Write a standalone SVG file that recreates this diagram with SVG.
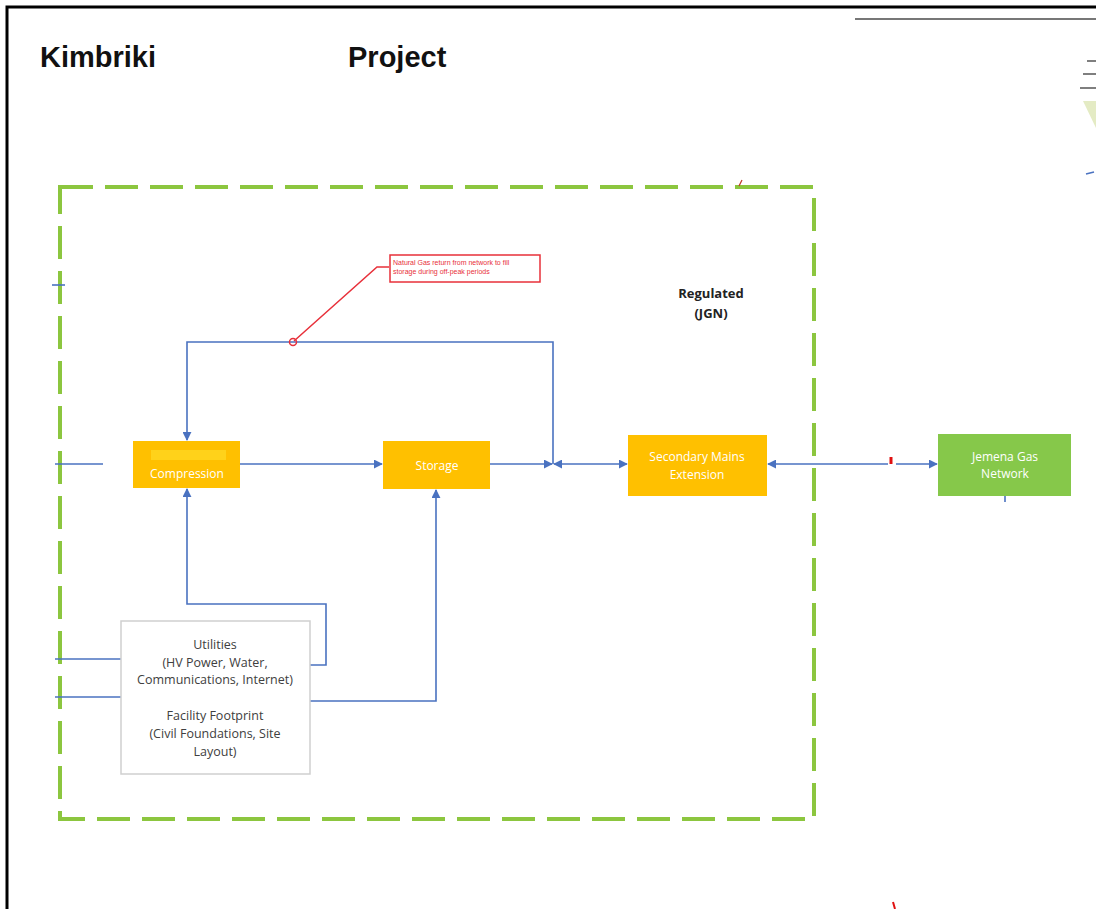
<svg xmlns="http://www.w3.org/2000/svg" width="1096" height="909" viewBox="0 0 1096 909">
<style>
.title{font-family:"Liberation Sans",Arial,sans-serif;font-weight:bold;font-size:29px;fill:#111}
.lbl{font-family:"Open Sans","Liberation Sans",sans-serif;font-size:12px;fill:#fff;text-anchor:middle}
.util{font-family:"Open Sans","Liberation Sans",sans-serif;font-size:12.5px;fill:#404040;text-anchor:middle}
.reg{font-family:"Open Sans","Liberation Sans",sans-serif;font-weight:bold;font-size:13px;fill:#222;text-anchor:middle}
.conn{fill:none;stroke:#4a72c0;stroke-width:1.6}
.orange{fill:#ffc000}
</style>
<defs>
<marker id="arr" viewBox="0 0 10 10" refX="9" refY="5" markerWidth="9" markerHeight="9" orient="auto-start-reverse" markerUnits="userSpaceOnUse">
<path d="M0,0 L10,5 L0,10 z" fill="#4a72c0"/>
</marker>
</defs>
<rect x="0" y="0" width="1096" height="909" fill="#fff"/>
<!-- frame -->
<path d="M7,909 V7 H1096" fill="none" stroke="#000" stroke-width="3"/>
<line x1="855" y1="19" x2="1096" y2="19" stroke="#777" stroke-width="2"/>
<g stroke="#555" stroke-width="1.5">
<line x1="1087" y1="61" x2="1096" y2="61"/>
<line x1="1083" y1="74" x2="1096" y2="74"/>
<line x1="1080" y1="88" x2="1096" y2="88"/>
</g>
<path d="M1083,101 L1096,101 L1096,128 Z" fill="#e4ebc4"/>
<line x1="1086" y1="174" x2="1094" y2="172" stroke="#4a72c0" stroke-width="1.5"/>

<text class="title" x="40" y="67">Kimbriki</text>
<text class="title" x="348" y="67">Project</text>

<!-- regulated boundary -->
<g id="regulated">
<rect x="60" y="187" width="754" height="632" fill="none" stroke="#8cc63f" stroke-width="4" stroke-dasharray="33,12"/>
<line x1="739" y1="186" x2="742" y2="180" stroke="#c0392b" stroke-width="1.2"/>
<text class="reg" x="711" y="298">Regulated</text>
<text class="reg" x="711" y="318">(JGN)</text>
</g>

<!-- connectors -->
<g id="connectors">
<path class="conn" d="M553,464 V342 H187 V440" marker-end="url(#arr)"/>
<path class="conn" d="M240,464 H382" marker-end="url(#arr)"/>
<path class="conn" d="M490,464 H552" marker-end="url(#arr)"/>
<path class="conn" d="M554,464 H627" marker-start="url(#arr)" marker-end="url(#arr)"/>
<path class="conn" d="M888,464 H768" marker-end="url(#arr)"/>
<path class="conn" d="M896,464 H937" marker-end="url(#arr)"/>
<path class="conn" d="M310,665 H326 V604 H187 V489" marker-end="url(#arr)"/>
<path class="conn" d="M310,701 H436 V490" marker-end="url(#arr)"/>
<path class="conn" d="M55,464 H103"/>
<path class="conn" d="M55,659 H121"/>
<path class="conn" d="M55,697 H121"/>
<path class="conn" d="M52,285 H65"/>
<path class="conn" d="M1005,496 V502"/>
<line x1="891" y1="457" x2="891" y2="464" stroke="#e01010" stroke-width="3"/>
<line x1="893" y1="902" x2="895" y2="909" stroke="#e01010" stroke-width="2"/>
</g>

<!-- callout -->
<g id="callout">
<path d="M389,267 H377 L294,341" fill="none" stroke="#e8303a" stroke-width="1.5"/>
<circle cx="293" cy="342" r="3.5" fill="none" stroke="#e8303a" stroke-width="1.5"/>
<rect x="390" y="255" width="150" height="27" fill="#fff" stroke="#e8303a" stroke-width="1.5"/>
<text x="393" y="265" font-family="Liberation Sans,Arial,sans-serif" font-size="7" fill="#e8303a">Natural Gas return from network to fill</text>
<text x="393" y="274" font-family="Liberation Sans,Arial,sans-serif" font-size="7" fill="#e8303a">storage during off-peak periods</text>
</g>

<g id="compression">
<rect class="orange" x="133" y="441" width="107" height="47"/>
<rect x="151" y="450" width="75" height="10" fill="#ffd21a"/>
<text class="lbl" x="187" y="478">Compression</text>
</g>
<g id="storage">
<rect class="orange" x="383" y="441" width="107" height="48"/>
<text class="lbl" x="437" y="470">Storage</text>
</g>
<g id="secondary-mains">
<rect class="orange" x="628" y="435" width="139" height="61"/>
<text class="lbl" x="697" y="461">Secondary Mains</text>
<text class="lbl" x="697" y="479">Extension</text>
</g>
<g id="jemena">
<rect x="938" y="434" width="133" height="62" fill="#86c84a"/>
<text class="lbl" x="1005" y="461">Jemena Gas</text>
<text class="lbl" x="1005" y="478">Network</text>
</g>
<g id="utilities">
<rect x="121" y="621" width="189" height="153" fill="#fff" stroke="#cfcfcf" stroke-width="1.5"/>
<text class="util" x="215" y="649">Utilities</text>
<text class="util" x="215" y="667">(HV Power, Water,</text>
<text class="util" x="215" y="684">Communications, Internet)</text>
<text class="util" x="215" y="720">Facility Footprint</text>
<text class="util" x="215" y="738">(Civil Foundations, Site</text>
<text class="util" x="215" y="756">Layout)</text>
</g>
</svg>
